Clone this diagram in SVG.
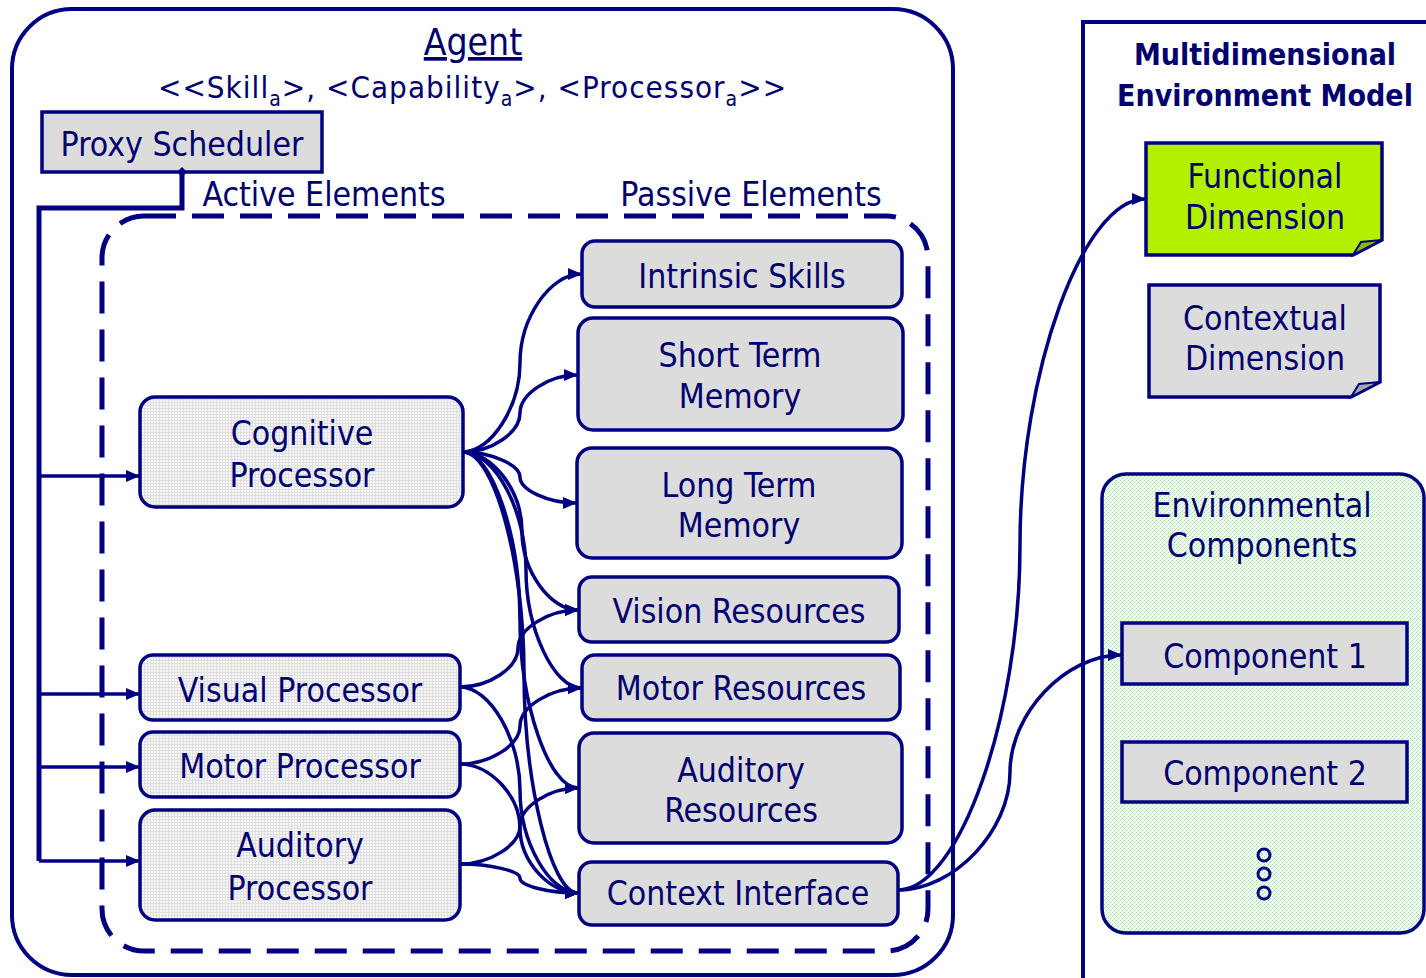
<svg xmlns="http://www.w3.org/2000/svg" width="1426" height="978" viewBox="0 0 1426 978">
  <style>
    text { font-family: 'DejaVu Sans Condensed', 'DejaVu Sans', sans-serif; font-stretch: condensed; fill: #00006e; }
    .lbl { font-size: 33.5px; text-anchor: middle; }
    .frame { fill: none; stroke: #000080; stroke-width: 4; }
    .box { stroke: #000080; stroke-width: 3.5; }
    .passive { fill: #dcdcdc; }
    .active { fill: url(#grid); }
    .link { fill: none; stroke: #000080; stroke-width: 3.5; marker-end: url(#arrow); }
    .trunk { fill: none; stroke: #000080; stroke-width: 5; }
    .branch { fill: none; stroke: #000080; stroke-width: 3.5; marker-end: url(#arrow); }
    .sub { font-size: 21px; }
  </style>
  <defs>
    <marker id="arrow" viewBox="0 0 14 12" refX="13" refY="6" markerWidth="14" markerHeight="12" markerUnits="userSpaceOnUse" orient="auto">
      <path d="M0,0 L14,6 L0,12 Z" fill="#000080"/>
    </marker>
    <marker id="diamond" viewBox="0 0 10 10" refX="5" refY="5" markerWidth="10" markerHeight="10" markerUnits="userSpaceOnUse" orient="auto">
      <path d="M5,0 L10,5 L5,10 L0,5 Z" fill="#000080"/>
    </marker>
    <pattern id="grid" width="3" height="3" patternUnits="userSpaceOnUse">
      <rect width="3" height="3" fill="#f7f7f7"/>
      <path d="M0,0.5 H3 M0.5,0 V3" stroke="#e0e0e0" stroke-width="1"/>
    </pattern>
    <pattern id="dots" width="4" height="4" patternUnits="userSpaceOnUse">
      <rect width="4" height="4" fill="#f4fdf4"/>
      <rect x="0" y="0" width="1" height="1" fill="#96e296"/>
      <rect x="2" y="2" width="1" height="1" fill="#96e296"/>
      <rect x="1" y="3" width="1" height="1" fill="#c4f0c4"/>
      <rect x="3" y="1" width="1" height="1" fill="#c4f0c4"/>
    </pattern>
  </defs>

  <rect width="1426" height="978" fill="#ffffff"/>

  <!-- agent container -->
  <g id="agent">
    <rect class="frame" x="12" y="9" width="941" height="966" rx="60"/>
    <text x="473" y="55" font-size="37" text-anchor="middle" text-decoration="underline">Agent</text>
    <text x="158" y="98" font-size="31" textLength="628" lengthAdjust="spacing">&lt;&lt;Skill<tspan class="sub" dy="8">a</tspan><tspan dy="-8">&gt;, &lt;Capability</tspan><tspan class="sub" dy="8">a</tspan><tspan dy="-8">&gt;, &lt;Processor</tspan><tspan class="sub" dy="8">a</tspan><tspan dy="-8">&gt;&gt;</tspan></text>
  </g>

  <!-- element container -->
  <g id="elements">
    <rect x="102" y="216" width="826" height="735" rx="42" fill="none" stroke="#000080" stroke-width="5" stroke-dasharray="32 16"/>
    <text class="lbl" x="324" y="206">Active Elements</text>
    <text class="lbl" x="751" y="206">Passive Elements</text>
  </g>

  <!-- environment model container -->
  <g id="environment-model">
    <path class="frame" d="M1083,982 V22 H1430"/>
    <text x="1265" y="65" font-size="30" font-weight="bold" text-anchor="middle">Multidimensional</text>
    <text x="1265" y="106" font-size="30" font-weight="bold" text-anchor="middle">Environment Model</text>
  </g>

  <g id="proxy-scheduler">
    <rect class="box" x="42" y="112" width="280" height="60" fill="#dcdcdc"/>
    <text class="lbl" x="182" y="156">Proxy Scheduler</text>
  </g>

  <!-- active elements -->
  <g id="cognitive-processor">
    <rect class="box active" x="140" y="397" width="323" height="110" rx="15"/>
    <text class="lbl" x="302" y="445">Cognitive</text>
    <text class="lbl" x="302" y="487">Processor</text>
  </g>
  <g id="visual-processor">
    <rect class="box active" x="140" y="655" width="320" height="65" rx="13"/>
    <text class="lbl" x="300" y="702">Visual Processor</text>
  </g>
  <g id="motor-processor">
    <rect class="box active" x="140" y="732" width="320" height="65" rx="13"/>
    <text class="lbl" x="300" y="778">Motor Processor</text>
  </g>
  <g id="auditory-processor">
    <rect class="box active" x="140" y="810" width="320" height="110" rx="15"/>
    <text class="lbl" x="300" y="857">Auditory</text>
    <text class="lbl" x="300" y="900">Processor</text>
  </g>

  <!-- passive elements -->
  <g id="intrinsic-skills">
    <rect class="box passive" x="582" y="241" width="320" height="66" rx="13"/>
    <text class="lbl" x="742" y="288">Intrinsic Skills</text>
  </g>
  <g id="short-term-memory">
    <rect class="box passive" x="578" y="318" width="325" height="112" rx="15"/>
    <text class="lbl" x="740" y="367">Short Term</text>
    <text class="lbl" x="740" y="408">Memory</text>
  </g>
  <g id="long-term-memory">
    <rect class="box passive" x="577" y="448" width="325" height="110" rx="15"/>
    <text class="lbl" x="739" y="497">Long Term</text>
    <text class="lbl" x="739" y="537">Memory</text>
  </g>
  <g id="vision-resources">
    <rect class="box passive" x="579" y="577" width="320" height="65" rx="13"/>
    <text class="lbl" x="739" y="623">Vision Resources</text>
  </g>
  <g id="motor-resources">
    <rect class="box passive" x="582" y="655" width="318" height="65" rx="13"/>
    <text class="lbl" x="741" y="700">Motor Resources</text>
  </g>
  <g id="auditory-resources">
    <rect class="box passive" x="579" y="733" width="323" height="110" rx="15"/>
    <text class="lbl" x="741" y="782">Auditory</text>
    <text class="lbl" x="741" y="822">Resources</text>
  </g>
  <g id="context-interface">
    <rect class="box passive" x="579" y="862" width="319" height="63" rx="13"/>
    <text class="lbl" x="738" y="905">Context Interface</text>
  </g>

  <!-- environment dimensions -->
  <g id="functional-dimension">
    <path class="box" d="M1146,143 H1382 V240 L1353,255 H1146 Z" fill="#b3f000"/>
    <path d="M1382,240 L1353,255 L1361,242 Z" fill="#8ab800" stroke="#000080" stroke-width="2"/>
    <text class="lbl" x="1265" y="188">Functional</text>
    <text class="lbl" x="1265" y="229">Dimension</text>
  </g>
  <g id="contextual-dimension">
    <path class="box" d="M1149,285 H1380 V382 L1351,397 H1149 Z" fill="#dcdcdc"/>
    <path d="M1380,382 L1351,397 L1359,384 Z" fill="#a8a8a8" stroke="#000080" stroke-width="2"/>
    <text class="lbl" x="1265" y="330">Contextual</text>
    <text class="lbl" x="1265" y="370">Dimension</text>
  </g>

  <g id="environmental-components">
    <rect class="box" x="1102" y="474" width="322" height="459" rx="24" fill="url(#dots)"/>
    <text class="lbl" x="1262" y="517">Environmental</text>
    <text class="lbl" x="1262" y="557">Components</text>
    <circle cx="1264" cy="855" r="6" fill="none" stroke="#000080" stroke-width="3"/>
    <circle cx="1264" cy="874" r="6" fill="none" stroke="#000080" stroke-width="3"/>
    <circle cx="1264" cy="893" r="6" fill="none" stroke="#000080" stroke-width="3"/>
  </g>
  <g id="component-1">
    <rect class="box" x="1122" y="623" width="285" height="61" fill="#dcdcdc"/>
    <text class="lbl" x="1265" y="668">Component 1</text>
  </g>
  <g id="component-2">
    <rect class="box" x="1122" y="742" width="285" height="60" fill="#dcdcdc"/>
    <text class="lbl" x="1265" y="785">Component 2</text>
  </g>

  <!-- connectors -->
  <g id="connectors">
    <!-- scheduler dispatch to the processors -->
    <path class="trunk" d="M182,172 V208 H39 V861" marker-start="url(#diamond)"/>
    <path class="branch" d="M39,476 H139"/>
    <path class="branch" d="M39,694 H139"/>
    <path class="branch" d="M39,767 H139"/>
    <path class="branch" d="M39,861 H139"/>

    <!-- cognitive processor to passive elements -->
    <path class="link" d="M463,452 C491,452 520,407 520,363 C520,318 550,274 581,274"/>
    <path class="link" d="M463,452 C491,452 520,433 520,413 C520,394 549,375 577,375"/>
    <path class="link" d="M463,452 C491,452 520,465 520,477 C520,490 548,503 576,503"/>
    <path class="link" d="M463,452 C493,452 522,492 522,531 C522,571 550,610 578,610"/>
    <path class="link" d="M463,452 C495,452 526,511 526,570 C526,629 554,688 581,688"/>
    <path class="link" d="M463,452 C492,452 520,536 520,620 C520,704 549,788 578,788"/>
    <path class="link" d="M463,452 C494,452 524,562 524,672 C524,783 551,893 578,893"/>

    <!-- visual, motor and auditory processors -->
    <path class="link" d="M460,687 C489,687 518,668 518,648 C518,629 548,610 578,610"/>
    <path class="link" d="M460,687 C490,687 520,739 520,790 C520,842 549,893 578,893"/>
    <path class="link" d="M460,764 C490,764 520,745 520,726 C520,707 550,688 581,688"/>
    <path class="link" d="M460,764 C490,764 520,796 520,828 C520,861 549,893 578,893"/>
    <path class="link" d="M460,864 C490,864 520,845 520,826 C520,807 549,788 578,788"/>
    <path class="link" d="M460,864 C490,864 520,871 520,878 C520,886 549,893 578,893"/>

    <!-- context interface to the environment model -->
    <path class="link" d="M898,890 C959,890 1020,717 1020,545 C1020,372 1083,199 1145,199"/>
    <path class="link" d="M898,890 C954,890 1010,831 1010,772 C1010,714 1065,655 1121,655"/>
  </g>
</svg>
